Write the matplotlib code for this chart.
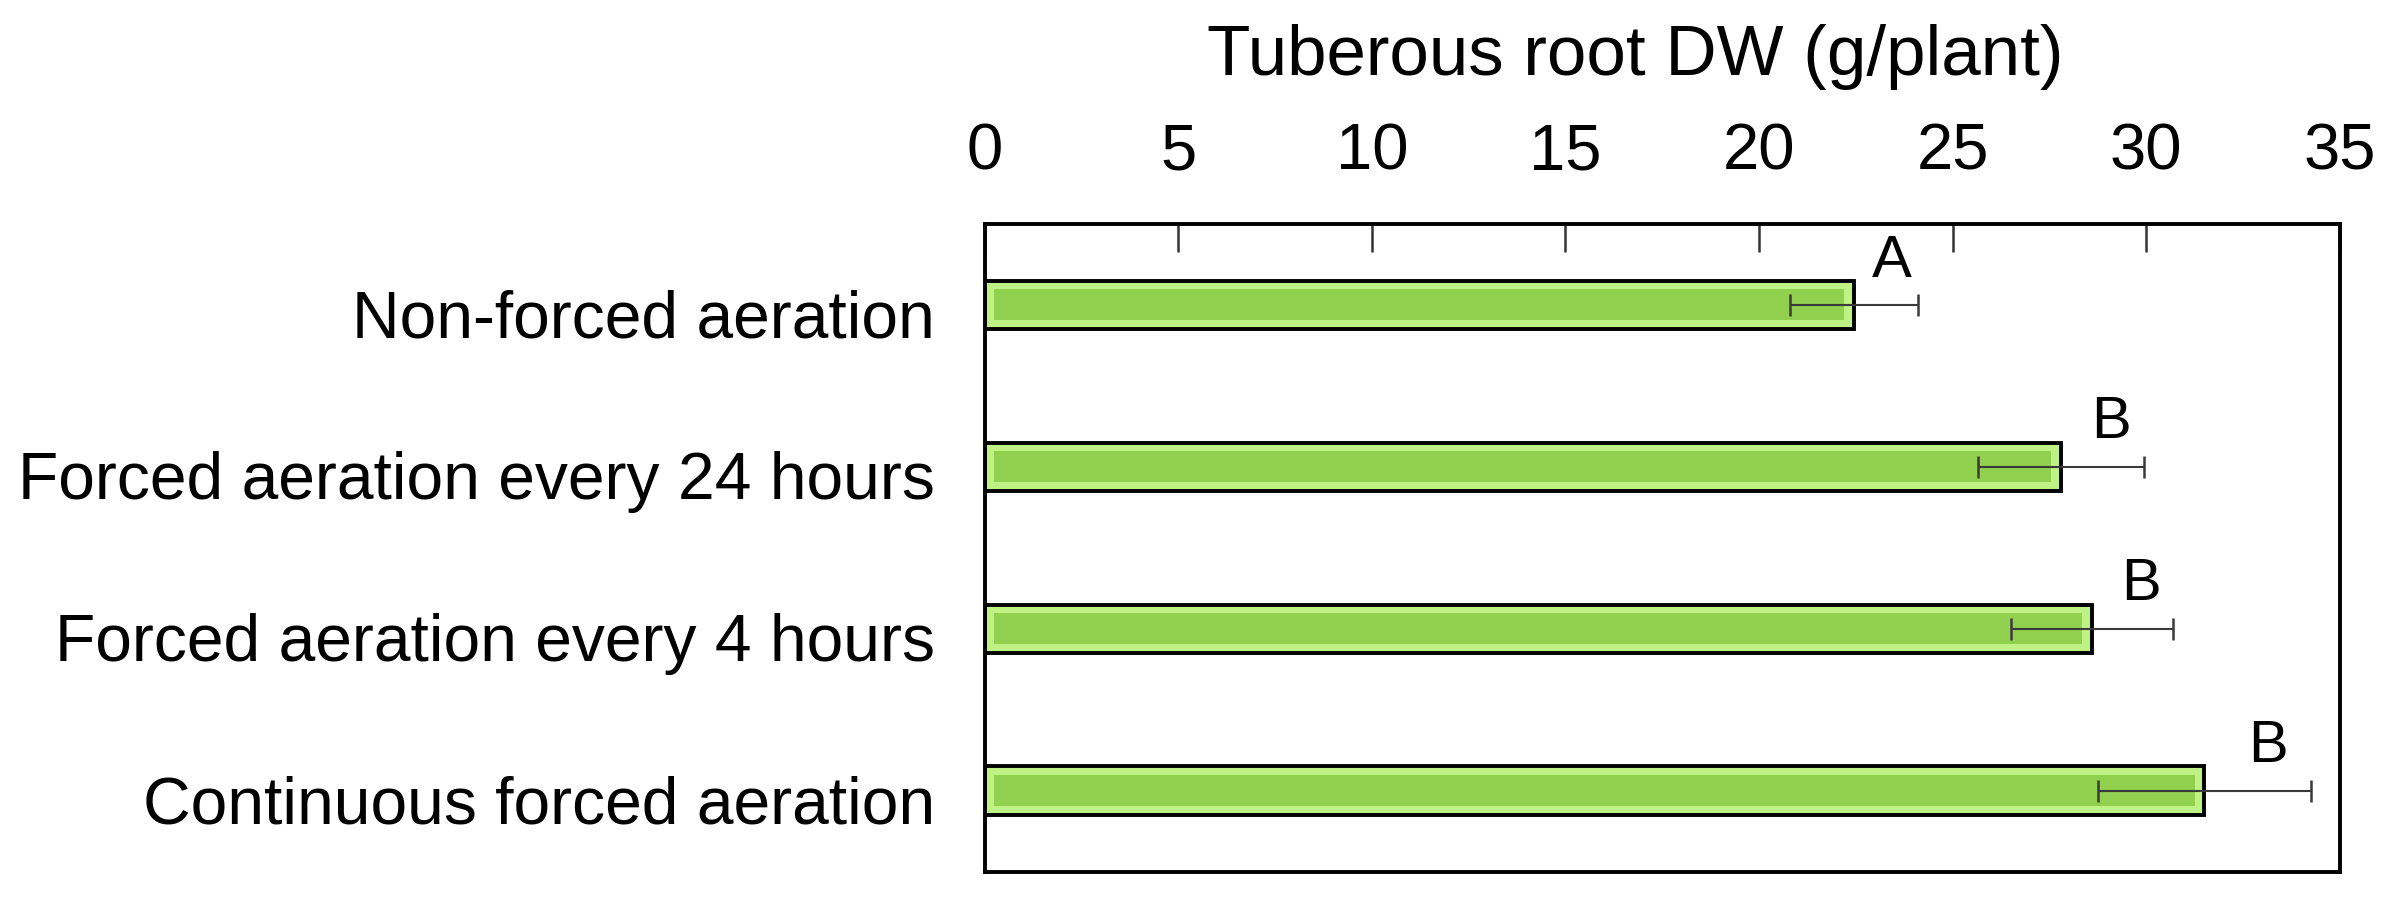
import matplotlib
matplotlib.use("Agg")
import matplotlib.pyplot as plt
import matplotlib.transforms as mtransforms
import numpy as np

# Data
treatments = [
    "Non-forced aeration",
    "Forced aeration every 24 hours",
    "Forced aeration every 4 hours",
    "Continuous forced aeration",
]
dw_mean = [22.45, 27.8, 28.6, 31.5]
dw_err = [1.65, 2.15, 2.1, 2.75]
letters = ["A", "B", "B", "B"]

x_ticks = [0, 5, 10, 15, 20, 25, 30, 35]

_GREEN_EDGE = "#bff285"
_GREEN_FILL = "#92d050"

plt.rcParams["font.family"] = ["Liberation Sans", "DejaVu Sans"]

fig = plt.figure(figsize=(23.9, 9.1), dpi=100)
ax = fig.add_axes([0.412, 0.042, 0.567, 0.712])

y_pos = np.arange(len(treatments))

# outer bar (light rim + black outline), inner darker green core
ax.barh(y_pos, dw_mean, height=0.30, color=_GREEN_EDGE, edgecolor="black",
        linewidth=2.8, zorder=2)
ax.barh(y_pos, np.array(dw_mean) - 0.5, left=0.25, height=0.19,
        color=_GREEN_FILL, edgecolor="none", zorder=3)

ax.errorbar(dw_mean, y_pos, xerr=dw_err, fmt="none", ecolor="#3a3a3a",
            elinewidth=1.5, capsize=8, capthick=1.8, zorder=4)

for m, e, yy, lab in zip(dw_mean, dw_err, y_pos, letters):
    ax.text(m + 0.6 * e, yy - 0.175, lab, ha="center", va="baseline",
            fontsize=43)

ax.set_xlim(0, 35)
ax.set_ylim(3.5, -0.5)
ax.set_yticks(y_pos)
ax.set_yticklabels(treatments, fontsize=47.5)
ax.tick_params(axis="y", length=0, pad=36)

# category labels sit a touch below the bar centres in the original
shift = mtransforms.ScaledTranslation(0, -6 / 72, fig.dpi_scale_trans)
for lbl in ax.get_yticklabels():
    lbl.set_transform(lbl.get_transform() + shift)

ax.set_xticks(x_ticks)
ax.xaxis.tick_top()
ax.tick_params(axis="x", direction="in", length=20, width=1.8,
               labelsize=47, pad=30, color="#333333")
ax.xaxis.set_label_position("top")
ax.set_xlabel("Tuberous root DW (g/plant)", fontsize=51, labelpad=34)
ax.xaxis.label.set_x(0.48)

for sp in ax.spines.values():
    sp.set_linewidth(2.8)
    sp.set_color("black")

fig.savefig("out.png", dpi=100, facecolor="white")
